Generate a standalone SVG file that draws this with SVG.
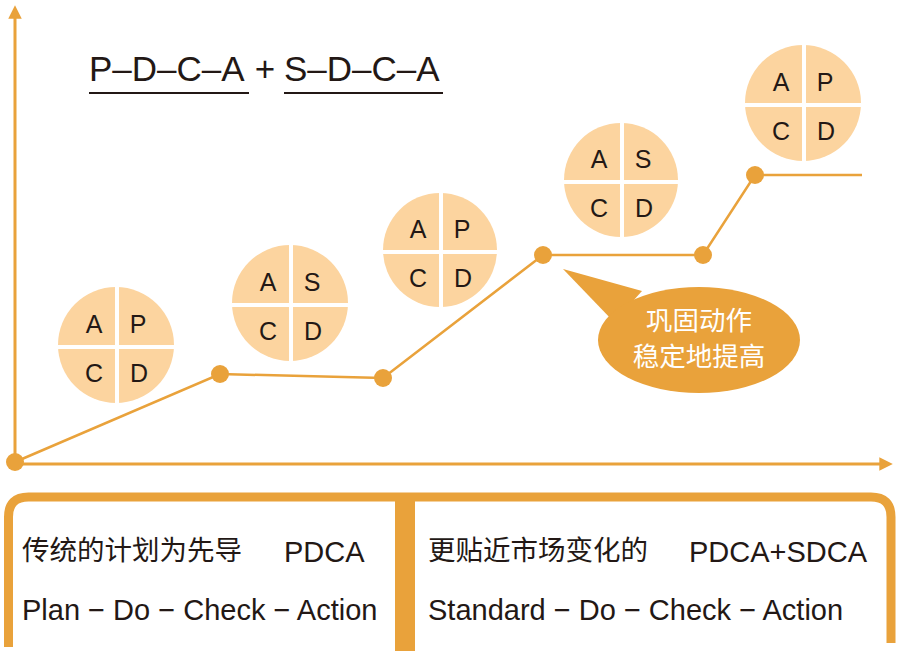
<svg xmlns="http://www.w3.org/2000/svg" width="904" height="653" viewBox="0 0 904 653">
<style>
.axis{stroke:#E9A23B;stroke-width:3;fill:none}
.conn{stroke:#E9A23B;stroke-width:2.5;fill:none}
.dot{fill:#E9A23B}
.disc{fill:#FCD49F}
.cross{stroke:#fff;stroke-width:4}
.q{font-family:"Liberation Sans","Noto Sans",sans-serif;font-size:25px;fill:#231815;text-anchor:middle}
.title{font-family:"Liberation Sans","Noto Sans",sans-serif;font-size:35px;fill:#231815}
.ul{stroke:#231815;stroke-width:2}
.cn{font-family:"Noto Sans CJK SC","Noto Sans",sans-serif;font-size:27.5px;fill:#231815}
.lat{font-family:"Liberation Sans","Noto Sans",sans-serif;font-size:29px;fill:#231815}
.bub{font-family:"Noto Sans CJK SC",sans-serif;font-size:26.5px;fill:#fff;text-anchor:middle}
</style>
<defs>
<marker id="arr" viewBox="0 0 10 10" refX="2" refY="5" markerWidth="4.5" markerHeight="4.5" orient="auto" markerUnits="strokeWidth">
<path d="M0,0 L10,5 L0,10 Z" fill="#E9A23B"/>
</marker>
</defs>
<rect width="904" height="653" fill="#fff"/>

<g id="axes">
<line class="axis" x1="15" y1="462" x2="15" y2="16" marker-end="url(#arr)"/>
<line class="axis" x1="15" y1="464" x2="882" y2="464" marker-end="url(#arr)"/>
</g>

<g id="title">
<text class="title" x="89" y="81">P–D–C–A</text>
<text class="title" x="265" y="81" text-anchor="middle">+</text>
<text class="title" x="284" y="81">S–D–C–A</text>
<line class="ul" x1="89" y1="93" x2="249" y2="93"/>
<line class="ul" x1="284" y1="93" x2="443" y2="93"/>
</g>

<g id="connectors">
<polyline class="conn" points="15,462 220,374 383,378 543,255 703,255 755,175 862,175"/>
<circle class="dot" cx="15" cy="462" r="9"/>
<circle class="dot" cx="220" cy="374" r="9"/>
<circle class="dot" cx="383" cy="378" r="9"/>
<circle class="dot" cx="543" cy="255" r="9"/>
<circle class="dot" cx="703" cy="255" r="9"/>
<circle class="dot" cx="755" cy="175" r="9"/>
</g>

<g id="cycle1">
<circle class="disc" cx="116" cy="345" r="58"/>
<line class="cross" x1="58" y1="347" x2="174" y2="347"/>
<line class="cross" x1="117" y1="287" x2="117" y2="403"/>
<text class="q" x="94" y="333">A</text><text class="q" x="138" y="333">P</text>
<text class="q" x="94" y="382">C</text><text class="q" x="139" y="382">D</text>
</g>

<g id="cycle2">
<circle class="disc" cx="290" cy="303" r="58"/>
<line class="cross" x1="232" y1="305" x2="348" y2="305"/>
<line class="cross" x1="291" y1="245" x2="291" y2="361"/>
<text class="q" x="268" y="291">A</text><text class="q" x="312" y="291">S</text>
<text class="q" x="268" y="340">C</text><text class="q" x="313" y="340">D</text>
</g>

<g id="cycle3">
<circle class="disc" cx="440" cy="250" r="57"/>
<line class="cross" x1="383" y1="252" x2="497" y2="252"/>
<line class="cross" x1="441" y1="193" x2="441" y2="307"/>
<text class="q" x="418" y="238">A</text><text class="q" x="462" y="238">P</text>
<text class="q" x="418" y="287">C</text><text class="q" x="463" y="287">D</text>
</g>

<g id="cycle4">
<circle class="disc" cx="621" cy="180" r="57"/>
<line class="cross" x1="564" y1="182" x2="678" y2="182"/>
<line class="cross" x1="622" y1="123" x2="622" y2="237"/>
<text class="q" x="599" y="168">A</text><text class="q" x="643" y="168">S</text>
<text class="q" x="599" y="217">C</text><text class="q" x="644" y="217">D</text>
</g>

<g id="cycle5">
<circle class="disc" cx="803" cy="103" r="58"/>
<line class="cross" x1="745" y1="105" x2="861" y2="105"/>
<line class="cross" x1="804" y1="45" x2="804" y2="161"/>
<text class="q" x="781" y="91">A</text><text class="q" x="825" y="91">P</text>
<text class="q" x="781" y="140">C</text><text class="q" x="826" y="140">D</text>
</g>

<g id="bubble">
<polygon points="563,269 642,291 614,322" fill="#E9A23B"/>
<ellipse cx="699" cy="340" rx="101" ry="53" fill="#E9A23B"/>
<text class="bub" x="699" y="330">巩固动作</text>
<text class="bub" x="699" y="366">稳定地提高</text>
</g>

<g id="panel">
<path d="M8.5,647 V517 Q8.5,497 28.5,497 H871 Q891,497 891,517 V643" fill="none" stroke="#E9A23B" stroke-width="9"/>
<rect x="395" y="497" width="20" height="154" fill="#E9A23B"/>
</g>

<g id="left-text">
<text class="cn" x="22" y="560">传统的计划为先导</text>
<text class="lat" x="284" y="562">PDCA</text>
<text class="lat" x="22" y="620">Plan − Do − Check − Action</text>
</g>

<g id="right-text">
<text class="cn" x="428" y="560">更贴近市场变化的</text>
<text class="lat" x="689" y="562">PDCA+SDCA</text>
<text class="lat" x="428" y="620">Standard − Do − Check − Action</text>
</g>
</svg>
